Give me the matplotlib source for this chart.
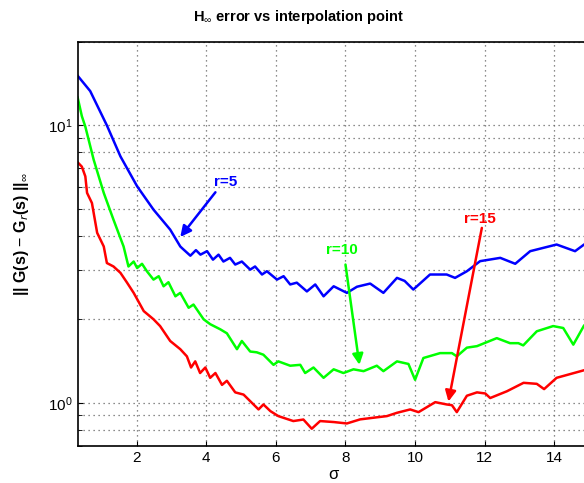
"""
H-infinity error of reduced models vs interpolation point sigma.
"""
import matplotlib
matplotlib.use("Agg")
import matplotlib.pyplot as plt

plt.rcParams['font.family'] = ['Liberation Sans', 'DejaVu Sans']
plt.rcParams['mathtext.fontset'] = 'custom'
plt.rcParams['mathtext.rm'] = 'Liberation Sans'
plt.rcParams['mathtext.bf'] = 'Liberation Sans:bold'

# r = 5
sigma_r5 = [0.30, 0.66, 1.14, 1.53, 2.01, 2.48, 2.96, 3.25, 3.30, 3.54, 3.70, 3.83, 4.02,
            4.19, 4.35, 4.49, 4.68, 4.83, 5.02, 5.26, 5.40, 5.60, 5.74, 6.03, 6.22,
            6.41, 6.60, 6.89, 7.13, 7.37, 7.66, 8.04, 8.33, 8.71, 9.09, 9.48, 9.70,
            9.95, 10.43, 10.91, 11.15, 11.49, 11.87, 12.45, 12.88, 13.31, 14.07,
            14.60, 14.86, 15.0]
err_r5 = [15.1, 13.3, 10.0, 7.73, 6.03, 4.97, 4.21, 3.66, 3.61, 3.39, 3.55, 3.42, 3.52,
          3.28, 3.42, 3.23, 3.33, 3.15, 3.23, 3.02, 3.10, 2.90, 2.98, 2.78, 2.86,
          2.67, 2.71, 2.52, 2.67, 2.42, 2.63, 2.49, 2.62, 2.69, 2.49, 2.82, 2.75,
          2.56, 2.90, 2.90, 2.82, 2.98, 3.24, 3.33, 3.17, 3.52, 3.72,
          3.52, 3.72, 3.80]

# r = 10
sigma_r10 = [0.30, 0.42, 0.52, 0.76, 1.05, 1.33, 1.62, 1.76, 1.91, 2.01, 2.15, 2.29,
             2.48, 2.63, 2.77, 2.91, 3.11, 3.25, 3.49, 3.63, 3.92, 4.11, 4.40, 4.59,
             4.88, 5.02, 5.26, 5.45, 5.64, 5.93, 6.07, 6.41, 6.70, 6.84, 7.08,
             7.37, 7.66, 7.94, 8.23, 8.52, 8.90, 9.09, 9.48, 9.81, 10.00, 10.24,
             10.72, 11.06, 11.20, 11.49, 11.78, 12.35, 12.73, 12.97, 13.11, 13.50,
             13.97, 14.26, 14.55, 14.86, 15.0]
err_r10 = [12.6, 10.8, 9.9, 7.52, 5.71, 4.57, 3.66, 3.10, 3.23, 3.06, 3.17, 2.98,
           2.78, 2.86, 2.63, 2.72, 2.42, 2.49, 2.20, 2.26, 2.00, 1.92, 1.84, 1.78,
           1.56, 1.67, 1.53, 1.52, 1.49, 1.37, 1.41, 1.36, 1.37, 1.28, 1.34,
           1.23, 1.32, 1.28, 1.32, 1.30, 1.36, 1.30, 1.41, 1.38, 1.21, 1.45,
           1.51, 1.51, 1.47, 1.58, 1.60, 1.71, 1.64, 1.64, 1.61, 1.81,
           1.89, 1.86, 1.62, 1.90, 1.95]

# r = 15
sigma_r15 = [0.30, 0.42, 0.52, 0.57, 0.71, 0.86, 1.05, 1.14, 1.33, 1.53, 1.72, 1.91,
             2.20, 2.48, 2.67, 2.96, 3.25, 3.44, 3.56, 3.68, 3.82, 3.97, 4.11, 4.26,
             4.45, 4.59, 4.83, 5.07, 5.50, 5.64, 5.84, 6.07, 6.50, 6.79, 7.03, 7.27,
             7.66, 8.04, 8.42, 8.80, 9.19, 9.48, 9.86, 10.10, 10.58, 10.91, 11.06,
             11.20, 11.49, 11.78, 12.02, 12.16, 12.64, 13.12, 13.50, 13.71, 14.07,
             14.86, 15.0]
err_r15 = [7.36, 7.10, 6.55, 5.71, 5.25, 4.10, 3.66, 3.19, 3.10, 2.94, 2.71, 2.49,
           2.14, 2.00, 1.89, 1.67, 1.56, 1.47, 1.34, 1.41, 1.28, 1.34, 1.23, 1.28,
           1.16, 1.20, 1.09, 1.07, 0.946, 0.986, 0.933, 0.895, 0.859, 0.870, 0.806, 0.859,
           0.852, 0.842, 0.871, 0.883, 0.895, 0.920, 0.946, 0.925, 1.005, 0.986, 0.98,
           0.925, 1.06, 1.09, 1.08, 1.04, 1.10, 1.18, 1.17, 1.12, 1.23,
           1.31, 1.32]

SERIES = [
    ("r=5", sigma_r5, err_r5, "#0000ff"),
    ("r=10", sigma_r10, err_r10, "#00ff00"),
    ("r=15", sigma_r15, err_r15, "#ff0000"),
]

# (label, text position, arrow tail, arrow tip) in data coords
ANNOTATIONS = {
    "r=5": ((4.54, 6.27), (4.26, 5.74), (3.25, 3.96)),
    "r=10": ((7.91, 3.54), (8.00, 3.15), (8.40, 1.37)),
    "r=15": ((11.87, 4.61), (11.92, 4.27), (10.96, 1.01)),
}

fig = plt.figure(figsize=(5.84, 4.83), dpi=100)
ax = fig.add_axes([0.133, 0.0772, 0.8755, 0.836])

for label, xs, ys, colour in SERIES:
    ax.plot(xs, ys, color=colour, linewidth=1.8)
    text_xy, tail_xy, tip_xy = ANNOTATIONS[label]
    ax.text(text_xy[0], text_xy[1], label, color=colour, fontsize=11,
            fontweight='bold', ha='center', va='center')
    ax.annotate("", xy=tip_xy, xytext=tail_xy,
                arrowprops=dict(arrowstyle='-|>', color=colour, lw=1.8,
                                mutation_scale=16, shrinkA=0, shrinkB=0))

ax.set_yscale('log')
ax.set_xlim(0.3, 15)
ax.set_ylim(0.7, 20)
ax.set_xticks(range(2, 15, 2))

grid_style = dict(linestyle=(0, (1, 3)), color='#666666', linewidth=0.9)
ax.grid(True, which='major', axis='both', **grid_style)
ax.grid(True, which='minor', axis='y', **grid_style)
ax.tick_params(which='both', direction='in', labelsize=11)
ax.tick_params(which='minor', length=3)
for side in ('left', 'bottom', 'top'):
    ax.spines[side].set_linewidth(1.2)

# title and y label sit where the (cropped) original put them
fig.text(0.512, 0.965, r'H$_{\infty}$ error vs interpolation point', fontsize=10.5,
         fontweight='bold', ha='center', va='center')
fig.text(0.036, 0.516, r'|| G(s) $-$ G$_r$(s) ||$_{\infty}$', fontsize=11.5,
         fontweight='bold', rotation=90, ha='center', va='center')
ax.set_xlabel('σ', fontsize=12, labelpad=2)

fig.savefig("out.png", dpi=100)
